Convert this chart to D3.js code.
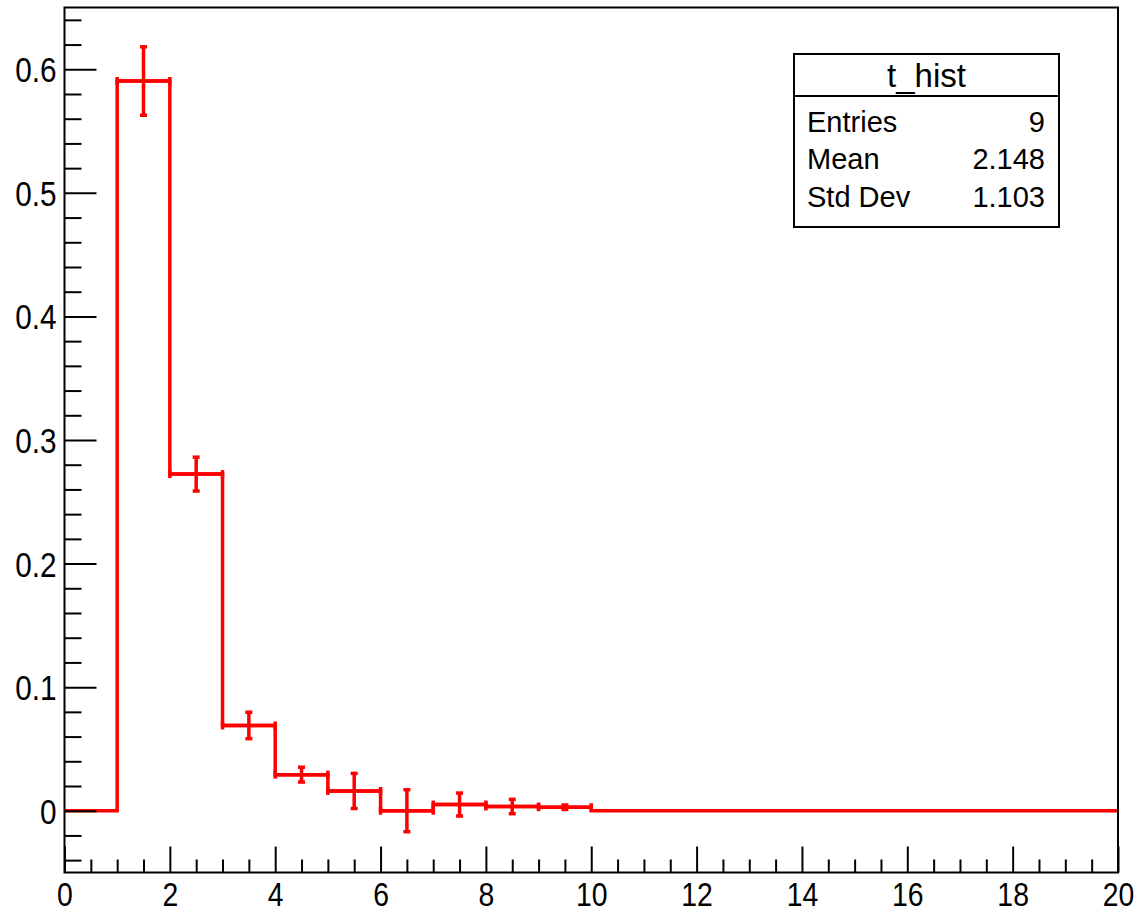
<!DOCTYPE html>
<html>
<head>
<meta charset="utf-8">
<script src="https://cdn.jsdelivr.net/npm/d3@7"></script>
<style>
  html, body { margin: 0; padding: 0; background: #fff; }
  svg { display: block; }
  text { font-family: "Liberation Sans", Arial, Helvetica, sans-serif; fill: #000; }
</style>
</head>
<body>
<svg id="chart" width="1137" height="912"></svg>
<script>
// ---- data ----
const binLow    = [0, 1, 2, 3, 4, 5, 6, 7, 8, 9, 10, 11, 12, 13, 14, 15, 16, 17, 18, 19];
const binHigh   = [1, 2, 3, 4, 5, 6, 7, 8, 9, 10, 11, 12, 13, 14, 15, 16, 17, 18, 19, 20];
const binValues = [0, 0.5905, 0.2724, 0.0690, 0.0292, 0.0160, 0, 0.0050, 0.0034, 0.0028, 0, 0, 0, 0, 0, 0, 0, 0, 0, 0];
const binErrors = [0, 0.0277, 0.0137, 0.0107, 0.0060, 0.0142, 0.0170, 0.0093, 0.0058, 0.0018, 0, 0, 0, 0, 0, 0, 0, 0, 0, 0];
const xTicks = [0, 2, 4, 6, 8, 10, 12, 14, 16, 18, 20];
const yTicks = [0, 0.1, 0.2, 0.3, 0.4, 0.5, 0.6];
const statTitle = "t_hist";
const statNames = ["Entries", "Mean", "Std Dev"];
const statValues = ["9", "2.148", "1.103"];

// ---- layout ----
const svg = d3.select("#chart");
const L = 64.5, R = 1118, T = 7.5, B = 872.5;
const x = d3.scaleLinear().domain([0, 20]).range([L, R]);
const y = d3.scaleLinear().domain([-0.05, 0.65]).range([B, T]);
const red = "#ff0000";

// histogram step outline
const pts = [];
binLow.forEach((lo, i) => {
  pts.push([x(lo), y(binValues[i])]);
  pts.push([x(binHigh[i]), y(binValues[i])]);
});
svg.append("path")
  .attr("d", d3.line()(pts))
  .attr("fill", "none").attr("stroke", red).attr("stroke-width", 3.5)
  .attr("stroke-linejoin", "miter");

// error bars
const eg = svg.append("g").attr("stroke", red).attr("stroke-width", 3.5);
binLow.forEach((lo, i) => {
  if (binErrors[i] <= 0) return;
  const cx = x((lo + binHigh[i]) / 2), cy = y(binValues[i]);
  const x0 = x(lo), x1 = x(binHigh[i]);
  const yt = y(binValues[i] + binErrors[i]), yb = y(binValues[i] - binErrors[i]);
  // horizontal bar with end marks
  eg.append("line").attr("x1", x0).attr("x2", x1).attr("y1", cy).attr("y2", cy);
  eg.append("line").attr("x1", x0).attr("x2", x0).attr("y1", cy - 4).attr("y2", cy + 4);
  eg.append("line").attr("x1", x1).attr("x2", x1).attr("y1", cy - 4).attr("y2", cy + 4);
  // vertical bar with caps
  eg.append("line").attr("x1", cx).attr("x2", cx).attr("y1", yt).attr("y2", yb);
  eg.append("line").attr("x1", cx - 3.5).attr("x2", cx + 3.5).attr("y1", yt).attr("y2", yt);
  eg.append("line").attr("x1", cx - 3.5).attr("x2", cx + 3.5).attr("y1", yb).attr("y2", yb);
});

// frame
svg.append("rect").attr("x", L).attr("y", T).attr("width", R - L).attr("height", B - T)
  .attr("fill", "none").attr("stroke", "#000").attr("stroke-width", 2);

// minor ticks
const yMinor = d3.range(-0.04, 0.6501, 0.02).filter(v => Math.abs(Math.round(v * 10) - v * 10) > 1e-6);
const xMinor = d3.range(0, 20.001, 0.5).filter(v => Math.abs(v % 2) > 1e-6);

const yMinorAxis = svg.append("g").attr("transform", `translate(${L},0)`)
  .call(d3.axisLeft(y).tickValues(yMinor).tickSize(-17).tickFormat(""));
const xMinorAxis = svg.append("g").attr("transform", `translate(0,${B})`)
  .call(d3.axisBottom(x).tickValues(xMinor).tickSize(-13).tickFormat(""));

const yAxis = svg.append("g").attr("transform", `translate(${L},0)`)
  .call(d3.axisLeft(y).tickValues(yTicks).tickSize(-32).tickPadding(8)
    .tickFormat(d => d === 0 ? "0" : d3.format(".1f")(d)));
const xAxis = svg.append("g").attr("transform", `translate(0,${B})`)
  .call(d3.axisBottom(x).tickValues(xTicks).tickSize(-26).tickFormat(d3.format("d")));

[yMinorAxis, xMinorAxis, yAxis, xAxis].forEach(g => {
  g.select(".domain").remove();
  g.selectAll(".tick line").attr("stroke", "#000").attr("stroke-width", 2);
});

yAxis.selectAll(".tick text")
  .attr("x", null).attr("dy", null)
  .attr("transform", "translate(-8,12.5) scale(0.85,1)")
  .style("font-size", "35px").style("font-family", '"Liberation Sans", Arial, sans-serif');
xAxis.selectAll(".tick text")
  .attr("y", null).attr("dy", null)
  .attr("transform", "translate(0,33) scale(0.86,1)")
  .style("font-size", "33px").style("font-family", '"Liberation Sans", Arial, sans-serif');

// stats box
const bx0 = 794, bx1 = 1059, by0 = 54, bySep = 96, by1 = 227;
const sb = svg.append("g");
sb.append("rect").attr("x", bx0).attr("y", by0).attr("width", bx1 - bx0).attr("height", by1 - by0)
  .attr("fill", "#fff").attr("stroke", "#000").attr("stroke-width", 2);
sb.append("line").attr("x1", bx0).attr("x2", bx1).attr("y1", bySep).attr("y2", bySep)
  .attr("stroke", "#000").attr("stroke-width", 2);
sb.append("text").attr("x", (bx0 + bx1) / 2).attr("y", 87).attr("text-anchor", "middle")
  .style("font-size", "33px").text(statTitle);
const rowY = [131.5, 169, 206.5];
statNames.forEach((n, i) => {
  sb.append("text").attr("x", 807).attr("y", rowY[i]).style("font-size", "29px").text(n);
  sb.append("text").attr("x", 1045).attr("y", rowY[i]).attr("text-anchor", "end")
    .style("font-size", "29px").text(statValues[i]);
});
</script>
</body>
</html>
